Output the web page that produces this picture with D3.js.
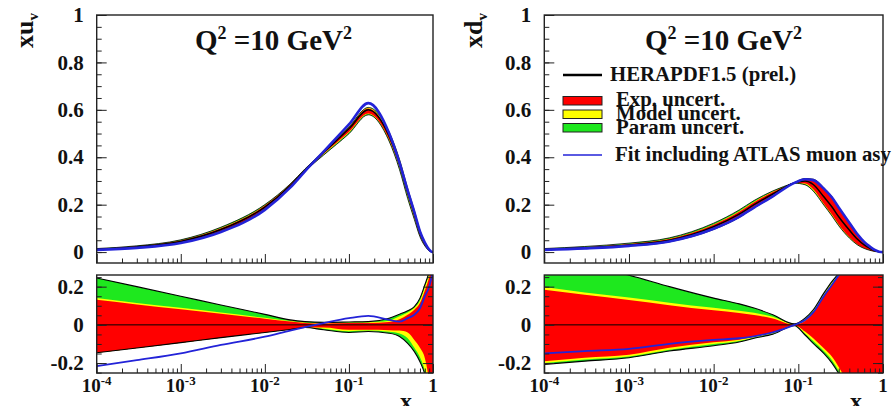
<!DOCTYPE html>
<html>
<head>
<meta charset="utf-8">
<script src="https://cdn.jsdelivr.net/npm/d3@7"></script>
<style>
body{margin:0;background:#fff;}
text{font-family:"Liberation Serif","Times New Roman",serif;font-weight:bold;fill:#111;}
</style>
</head>
<body>
<script>
//SVG dimension variables
var w = 892, h = 406;

//xu_v panel: x grid, central fit and relative deviations (ratio panel)
var xU = [1e-4, 3e-4, 1e-3, 3e-3, 1e-2, 2e-2, 3e-2, 5e-2, 0.1, 0.17, 0.3, 0.4, 0.5, 0.6, 0.7, 0.8, 0.9, 0.95, 1];
var uCentral = [0.012, 0.022, 0.045, 0.095, 0.19, 0.28, 0.345, 0.42, 0.52, 0.60, 0.49, 0.37, 0.25, 0.16, 0.08, 0.035, 0.009, 0.002, 0];
var uBlue  = [-0.216, -0.185, -0.149, -0.105, -0.062, -0.03, -0.012, 0.009, 0.035, 0.047, 0.026, 0.017, 0.035, 0.053, 0.087, 0.15, 0.2, 0.24, 0.28];
var uExpUp = [0.131, 0.107, 0.082, 0.058, 0.032, 0.017, 0.01, 0.007, 0.01, 0.01, 0.015, 0.03, 0.053, 0.079, 0.114, 0.18, 0.25, 0.3, 0.35];
var uModUp = [0.14, 0.115, 0.09, 0.065, 0.037, 0.02, 0.013, 0.01, 0.013, 0.014, 0.022, 0.045, 0.065, 0.09, 0.128, 0.2, 0.27, 0.32, 0.37];
var uParUp = [0.245, 0.2, 0.15, 0.104, 0.055, 0.026, 0.017, 0.013, 0.015, 0.017, 0.035, 0.056, 0.074, 0.096, 0.14, 0.21, 0.28, 0.33, 0.38];
var uExpDn = [-0.146, -0.121, -0.093, -0.067, -0.04, -0.024, -0.014, -0.014, -0.026, -0.026, -0.028, -0.03, -0.04, -0.079, -0.12, -0.175, -0.3, -0.4, -0.5];
var uModDn = [-0.146, -0.121, -0.093, -0.067, -0.04, -0.024, -0.014, -0.02, -0.033, -0.03, -0.036, -0.045, -0.07, -0.12, -0.17, -0.24, -0.35, -0.45, -0.55];
var uParDn = [-0.146, -0.121, -0.093, -0.067, -0.04, -0.024, -0.014, -0.026, -0.04, -0.035, -0.044, -0.061, -0.097, -0.14, -0.193, -0.26, -0.38, -0.48, -0.6];

//xd_v panel
var xD = [1e-4, 3e-4, 1e-3, 3e-3, 1e-2, 2e-2, 3e-2, 5e-2, 0.09, 0.12, 0.15, 0.2, 0.25, 0.3, 0.4, 0.5, 0.6, 0.7, 0.8, 0.9, 1];
var dCentral = [0.011, 0.018, 0.03, 0.05, 0.107, 0.16, 0.2, 0.245, 0.292, 0.30, 0.285, 0.233, 0.19, 0.149, 0.093, 0.054, 0.03, 0.016, 0.006, 0.001, 0];
var dBlue  = [-0.149, -0.137, -0.126, -0.099, -0.079, -0.07, -0.06, -0.039, 0.0, 0.025, 0.065, 0.15, 0.21, 0.26, 0.33, 0.38, 0.42, 0.45, 0.5, 0.5, 0.5];
var dExpUp = [0.184, 0.157, 0.13, 0.103, 0.076, 0.062, 0.052, 0.033, 0.0, 0.02, 0.064, 0.15, 0.213, 0.255, 0.34, 0.4, 0.45, 0.5, 0.55, 0.6, 0.6];
var dModUp = [0.198, 0.17, 0.143, 0.116, 0.089, 0.074, 0.063, 0.042, 0.003, 0.03, 0.074, 0.161, 0.223, 0.265, 0.35, 0.41, 0.46, 0.51, 0.56, 0.61, 0.61];
var dParUp = [0.36, 0.31, 0.26, 0.2, 0.14, 0.11, 0.088, 0.053, 0.005, 0.035, 0.079, 0.166, 0.228, 0.27, 0.36, 0.42, 0.47, 0.52, 0.57, 0.62, 0.62];
var dExpDn = [-0.19, -0.172, -0.156, -0.12, -0.091, -0.078, -0.062, -0.04, -0.003, -0.035, -0.07, -0.123, -0.167, -0.22, -0.32, -0.4, -0.45, -0.5, -0.55, -0.6, -0.6];
var dModDn = [-0.2, -0.181, -0.165, -0.13, -0.1, -0.085, -0.066, -0.045, -0.004, -0.045, -0.085, -0.137, -0.185, -0.24, -0.34, -0.42, -0.47, -0.52, -0.57, -0.62, -0.62];
var dParDn = [-0.207, -0.19, -0.172, -0.137, -0.109, -0.09, -0.07, -0.049, -0.005, -0.053, -0.097, -0.149, -0.2, -0.255, -0.36, -0.44, -0.49, -0.54, -0.59, -0.64, -0.64];

//tick labels
var topTicks = [0, 0.2, 0.4, 0.6, 0.8, 1];
var ratioTicks = [-0.2, 0, 0.2];
var decades = [-4, -3, -2, -1, 0];

//legend entries
var legendLines = [{label: "HERAPDF1.5 (prel.)", color: "#000"}, {label: "Fit including ATLAS muon asy", color: "#2323d8"}];
var legendBoxes = [{label: "Exp. uncert.", color: "#ff0000"}, {label: "Model uncert.", color: "#ffff00"}, {label: "Param uncert.", color: "#1ee81e"}];

var svg = d3.select("body").append("svg")
    .attr("width", w)
    .attr("height", h);

var minors = [];
decades.slice(0, 4).forEach(function(k){
    for (var m = 2; m <= 9; m++) minors.push(m * Math.pow(10, k));
});

function drawPanel(p){
    var x = d3.scaleLog().domain([1e-4, 1]).range([p.left, p.right]);
    var yT = d3.scaleLinear().domain([-0.046, 1]).range([263, 15]);
    var yR = d3.scaleLinear().domain([-0.252, 0.261]).range([373, 275]);

    var rows = p.xs.map(function(xv, i){
        return {x: xv, c: p.central[i], blue: p.blue[i],
            expUp: p.expUp[i], modUp: p.modUp[i], parUp: p.parUp[i],
            expDn: p.expDn[i], modDn: p.modDn[i], parDn: p.parDn[i]};
    });

    var g = svg.append("g").attr("class", p.id);

    //clip paths for the two pads
    var defs = g.append("defs");
    defs.append("clipPath").attr("id", p.id + "-top").append("rect")
        .attr("x", p.left).attr("y", 15).attr("width", p.right - p.left).attr("height", 248);
    defs.append("clipPath").attr("id", p.id + "-rat").append("rect")
        .attr("x", p.left).attr("y", 275).attr("width", p.right - p.left).attr("height", 98);

    var bands = [["parUp", "parDn", "#1ee81e"], ["modUp", "modDn", "#ffff00"], ["expUp", "expDn", "#ff0000"]];

    //top pad: absolute distributions
    var top = g.append("g").attr("clip-path", "url(#" + p.id + "-top)");
    bands.forEach(function(b){
        top.append("path").datum(rows)
            .attr("d", d3.area().curve(d3.curveMonotoneX)
                .x(function(d){ return x(d.x); })
                .y0(function(d){ return yT(d.c * (1 + d[b[1]])); })
                .y1(function(d){ return yT(d.c * (1 + d[b[0]])); }))
            .style("fill", b[2]);
    });
    ["parUp", "parDn"].forEach(function(k){
        top.append("path").datum(rows)
            .attr("d", d3.line().curve(d3.curveMonotoneX)
                .x(function(d){ return x(d.x); })
                .y(function(d){ return yT(d.c * (1 + d[k])); }))
            .style("fill", "none").style("stroke", "#000").style("stroke-width", 0.8);
    });
    top.append("path").datum(rows)
        .attr("d", d3.line().curve(d3.curveMonotoneX)
            .x(function(d){ return x(d.x); })
            .y(function(d){ return yT(d.c); }))
        .style("fill", "none").style("stroke", "#000").style("stroke-width", 1.5);
    top.append("path").datum(rows)
        .attr("d", d3.line().curve(d3.curveMonotoneX)
            .x(function(d){ return x(d.x); })
            .y(function(d){ return yT(d.c * (1 + d.blue)); }))
        .style("fill", "none").style("stroke", "#2323d8").style("stroke-width", 2.6);

    //ratio pad: relative deviations
    var rat = g.append("g").attr("clip-path", "url(#" + p.id + "-rat)");
    bands.forEach(function(b){
        rat.append("path").datum(rows)
            .attr("d", d3.area().curve(d3.curveMonotoneX)
                .x(function(d){ return x(d.x); })
                .y0(function(d){ return yR(d[b[1]]); })
                .y1(function(d){ return yR(d[b[0]]); }))
            .style("fill", b[2]);
    });
    ["parUp", "parDn"].forEach(function(k){
        rat.append("path").datum(rows)
            .attr("d", d3.line().curve(d3.curveMonotoneX)
                .x(function(d){ return x(d.x); })
                .y(function(d){ return yR(d[k]); }))
            .style("fill", "none").style("stroke", "#000").style("stroke-width", 1.1);
    });
    rat.append("line")
        .attr("x1", p.left).attr("x2", p.right).attr("y1", yR(0)).attr("y2", yR(0))
        .style("stroke", "#000").style("stroke-width", 1);
    rat.append("path").datum(rows)
        .attr("d", d3.line().curve(d3.curveMonotoneX)
            .x(function(d){ return x(d.x); })
            .y(function(d){ return yR(d.blue); }))
        .style("fill", "none").style("stroke", "#2323d8").style("stroke-width", 1.8);

    //axes (ticks point inward like ROOT)
    function ax(axis, tx, ty){
        var a = g.append("g").attr("transform", "translate(" + tx + "," + ty + ")").call(axis);
        a.select(".domain").remove();
        a.selectAll(".tick line").style("stroke", "#222");
        return a;
    }
    var majX = decades.map(function(k){ return Math.pow(10, k); });
    [263, 373].forEach(function(yy){
        ax(d3.axisBottom(x).tickValues(majX).tickSize(-9).tickFormat(""), 0, yy);
        ax(d3.axisBottom(x).tickValues(minors).tickSize(-4.5).tickFormat(""), 0, yy);
    });

    var yl = ax(d3.axisLeft(yT).tickValues(topTicks).tickSize(-10).tickPadding(13)
        .tickFormat(function(d){ return d === 0 ? "0" : d === 1 ? "1" : d.toFixed(1); }), p.left, 0);
    yl.selectAll("text").style("font-size", "21px").style("font-family", null);
    ax(d3.axisLeft(yT).tickValues(d3.range(0, 1.001, 0.05)).tickSize(-5).tickFormat(""), p.left, 0);

    var rl = ax(d3.axisLeft(yR).tickValues(ratioTicks).tickSize(-10).tickPadding(13)
        .tickFormat(function(d){ return d === 0 ? "0" : d.toFixed(1); }), p.left, 0);
    rl.selectAll("text").style("font-size", "21px").style("font-family", null);
    var rMinor = d3.range(-0.25, 0.2501, 0.05);
    ax(d3.axisLeft(yR).tickValues(rMinor).tickSize(-5).tickFormat(""), p.left, 0);
    ax(d3.axisRight(yR).tickValues(ratioTicks).tickSize(-10).tickFormat(""), p.right, 0);
    ax(d3.axisRight(yR).tickValues(rMinor).tickSize(-5).tickFormat(""), p.right, 0);

    //x tick labels 10^k
    g.selectAll("text.xlab").data(decades).enter().append("text")
        .attr("class", "xlab")
        .attr("x", function(k){ return x(Math.pow(10, k)); })
        .attr("y", 392)
        .attr("text-anchor", "middle")
        .style("font-size", "19px")
        .each(function(k){
            var t = d3.select(this);
            if (k === 0) { t.text("1"); return; }
            t.append("tspan").text("10");
            t.append("tspan").attr("dy", -7).style("font-size", "13px").text(k);
        });

    //frames
    [[15, 263], [275, 373]].forEach(function(r){
        g.append("rect").attr("x", p.left).attr("y", r[0])
            .attr("width", p.right - p.left).attr("height", r[1] - r[0])
            .style("fill", "none").style("stroke", "#222").style("stroke-width", 1.4);
    });

    //title
    var t = g.append("text").attr("x", p.titleX).attr("y", 50).style("font-size", "29px");
    t.append("tspan").text("Q");
    t.append("tspan").attr("dy", -11).style("font-size", "18px").text("2");
    t.append("tspan").attr("dy", 11).text(" =10 GeV");
    t.append("tspan").attr("dy", -11).style("font-size", "18px").text("2");

    //y axis title
    var yt = g.append("text")
        .attr("transform", "translate(" + p.ylabX + ",13) rotate(-90)")
        .attr("text-anchor", "end")
        .style("font-size", "26px");
    yt.append("tspan").text("x" + p.flav);
    yt.append("tspan").attr("dy", 5).style("font-size", "15px").text("v");

    //x axis title
    g.append("text").attr("x", p.right - 27).attr("y", 409)
        .attr("text-anchor", "middle").style("font-size", "24px").text("x");

    return x;
}

drawPanel({id: "uv", left: 96.7, right: 433, xs: xU, central: uCentral, blue: uBlue,
    expUp: uExpUp, modUp: uModUp, parUp: uParUp, expDn: uExpDn, modDn: uModDn, parDn: uParDn,
    titleX: 195, ylabX: 33, flav: "u"});
drawPanel({id: "dv", left: 544.3, right: 883, xs: xD, central: dCentral, blue: dBlue,
    expUp: dExpUp, modUp: dModUp, parUp: dParUp, expDn: dExpDn, modDn: dModDn, parDn: dParDn,
    titleX: 645, ylabX: 482, flav: "d"});

//legend (inside the xd_v pad, runs past the frame like the original)
var leg = svg.append("g").attr("class", "legend");
leg.selectAll("line").data(legendLines).enter().append("line")
    .attr("x1", 563).attr("x2", 602)
    .attr("y1", function(d, i){ return i === 0 ? 75 : 155; })
    .attr("y2", function(d, i){ return i === 0 ? 75 : 155; })
    .style("stroke", function(d){ return d.color; })
    .style("stroke-width", function(d, i){ return i === 0 ? 2.5 : 1.3; });
leg.selectAll("text.ll").data(legendLines).enter().append("text")
    .attr("class", "ll")
    .attr("x", function(d, i){ return i === 0 ? 610 : 615; })
    .attr("y", function(d, i){ return i === 0 ? 81 : 161; })
    .style("font-size", "20.8px")
    .text(function(d){ return d.label; });
leg.selectAll("rect").data(legendBoxes).enter().append("rect")
    .attr("x", 563).attr("width", 39)
    .attr("y", function(d, i){ return 96.5 + i * 13.5; })
    .attr("height", 8.5)
    .style("fill", function(d){ return d.color; })
    .style("stroke", "#222").style("stroke-width", 1);
leg.selectAll("text.lb").data(legendBoxes).enter().append("text")
    .attr("class", "lb")
    .attr("x", 616)
    .attr("y", function(d, i){ return 106 + i * 14; })
    .style("font-size", "20.8px")
    .text(function(d){ return d.label; });
</script>
</body>
</html>
